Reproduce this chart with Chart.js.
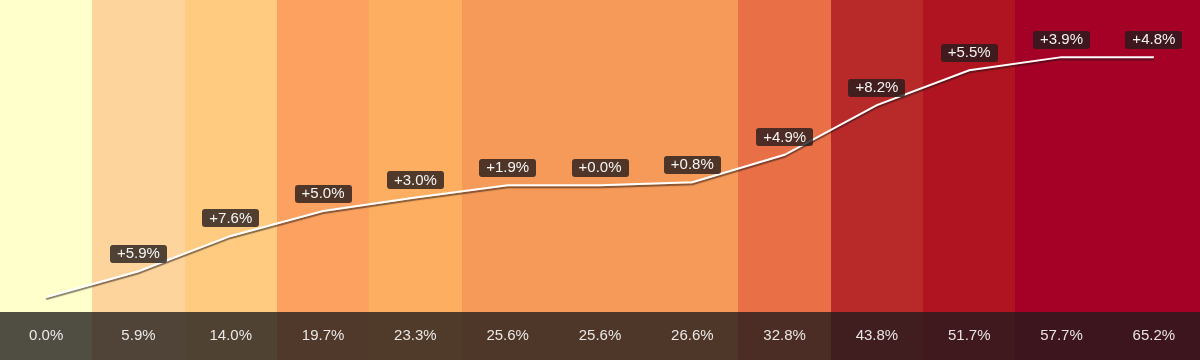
<!DOCTYPE html>
<html>
<head>
<meta charset="utf-8">
<script src="https://cdn.jsdelivr.net/npm/chart.js@4/dist/chart.umd.min.js"></script>
<style>
  html, body { margin: 0; padding: 0; background: #fff; }
  #wrap { width: 1200px; height: 360px; position: relative; }
</style>
</head>
<body>
<div id="wrap"><canvas id="myChart"></canvas></div>
<script>
'use strict';

// data
const steps = ['0', '1', '2', '3', '4', '5', '6', '7', '8', '9', '10', '11', '12'];
const totals = [0.0, 5.9, 14.0, 19.7, 23.3, 25.6, 25.6, 26.6, 32.8, 43.8, 51.7, 57.7, 65.2];
const changes = [null, 5.9, 7.6, 5.0, 3.0, 1.9, 0.0, 0.8, 4.9, 8.2, 5.5, 3.9, 4.8];
// line heights as drawn (the line levels off at the top)
const lineValues = [0.0, 5.9, 14.0, 19.7, 22.8, 25.6, 25.6, 26.3, 32.6, 44.0, 52.0, 55.0, 55.0];

const bandColors = [
    '#ffffcc', '#fed49d', '#fecb80', '#fca160', '#fdae61',
    '#f59a58', '#f59a58', '#f59a58', '#e86f46', '#b8292a',
    '#b01420', '#a50026', '#a50026'
];

const FONT = '"Liberation Sans", Arial, sans-serif';

function roundRect(ctx, x, y, w, h, r) {
    ctx.beginPath();
    ctx.moveTo(x + r, y);
    ctx.lineTo(x + w - r, y);
    ctx.quadraticCurveTo(x + w, y, x + w, y + r);
    ctx.lineTo(x + w, y + h - r);
    ctx.quadraticCurveTo(x + w, y + h, x + w - r, y + h);
    ctx.lineTo(x + r, y + h);
    ctx.quadraticCurveTo(x, y + h, x, y + h - r);
    ctx.lineTo(x, y + r);
    ctx.quadraticCurveTo(x, y, x + r, y);
    ctx.closePath();
}

const bandsPlugin = {
    id: 'bands',
    beforeDraw(chart) {
        const ctx = chart.ctx;
        const xs = chart.scales.x;
        const area = chart.chartArea;
        const half = (xs.getPixelForValue(1) - xs.getPixelForValue(0)) / 2;
        ctx.save();
        for (let i = 0; i < steps.length; i++) {
            const cx = xs.getPixelForValue(i);
            const x0 = Math.round(cx - half);
            const x1 = Math.round(cx + half);
            ctx.fillStyle = bandColors[i];
            ctx.fillRect(x0, area.top, x1 - x0, area.bottom - area.top);
        }
        ctx.restore();
    },
    beforeDatasetDraw(chart) {
        const ctx = chart.ctx;
        ctx.save();
        ctx.shadowColor = 'rgba(30,20,20,0.55)';
        ctx.shadowOffsetX = 0;
        ctx.shadowOffsetY = 2;
        ctx.shadowBlur = 1;
    },
    afterDatasetDraw(chart) {
        chart.ctx.restore();
    },
    afterDraw(chart) {
        const ctx = chart.ctx;
        const xs = chart.scales.x;
        const area = chart.chartArea;
        const meta = chart.getDatasetMeta(0);
        ctx.save();

        // bottom strip with totals
        const stripTop = 312;
        ctx.fillStyle = 'rgba(31,27,28,0.78)';
        ctx.fillRect(area.left, stripTop, area.right - area.left, area.bottom - stripTop);
        ctx.font = '15px ' + FONT;
        ctx.textAlign = 'center';
        ctx.textBaseline = 'middle';
        ctx.fillStyle = 'rgba(255,255,255,0.88)';
        for (let i = 0; i < totals.length; i++) {
            ctx.fillText(totals[i].toFixed(1) + '%', xs.getPixelForValue(i), 336);
        }

        // change labels above the points
        for (let i = 0; i < changes.length; i++) {
            if (changes[i] === null) continue;
            const pt = meta.data[i];
            const txt = '+' + changes[i].toFixed(1) + '%';
            const w = ctx.measureText(txt).width + 14;
            const h = 18;
            const cy = pt.y - 17.5;
            ctx.fillStyle = 'rgba(36,27,28,0.8)';
            roundRect(ctx, Math.round(pt.x - w / 2), Math.round(cy - h / 2), Math.round(w), h, 3);
            ctx.fill();
            ctx.fillStyle = 'rgba(255,255,255,0.95)';
            ctx.fillText(txt, pt.x, cy + 0.5);
        }
        ctx.restore();
    }
};

const config = {
    type: 'line',
    data: {
        labels: steps,
        datasets: [{
            data: lineValues,
            borderColor: '#ffffff',
            borderWidth: 2,
            pointRadius: 0,
            tension: 0,
            fill: false
        }]
    },
    options: {
        responsive: true,
        maintainAspectRatio: false,
        animation: false,
        layout: { padding: 0 },
        plugins: {
            legend: { display: false },
            tooltip: { enabled: false }
        },
        scales: {
            x: { display: false, offset: true },
            y: { display: false, min: -14.45, max: 68.1 }
        }
    },
    plugins: [bandsPlugin]
};

const myChart = new Chart(document.getElementById('myChart'), config);
</script>
</body>
</html>
